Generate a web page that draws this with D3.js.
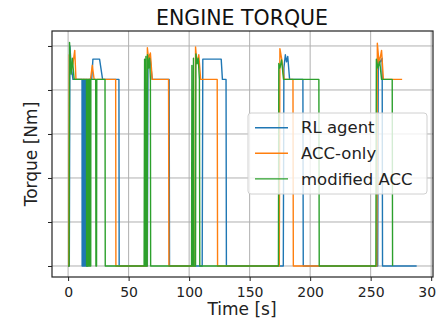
<!DOCTYPE html>
<html>
<head>
<meta charset="utf-8">
<script src="https://cdn.jsdelivr.net/npm/d3@7"></script>
<style>
  body { margin: 0; background: #fff; }
  text { font-family: "DejaVu Sans", sans-serif; }
</style>
</head>
<body>
<div id="chart"></div>
<script>
// data (time in s, torque in arbitrary units)
var rlTime = [0, 1, 1.5, 2.5, 4, 11.5, 11.6, 12.2, 12.3, 12.8, 12.9, 13.5, 13.6, 14.1, 14.2, 14.8, 14.9, 15.5, 15.6, 16.2, 16.3, 19.5, 20.5, 26, 28.5, 42, 42.2,
  65.5, 66, 67.5, 69.5, 83.5, 83.8, 110.8, 111.3, 126.5, 127.5, 130.5, 130.8,
  177.8, 178.3, 179.5, 180.5, 181.5, 183, 194, 194.3, 255.8, 256.3, 258, 259.5, 259.8, 288];
var rlTorque = [0, 0, 250, 228, 212, 212, 0, 0, 212, 212, 0, 0, 212, 212, 0, 0, 212, 212, 0, 0, 212, 212, 235, 235, 212, 212, 0,
  0, 236, 240, 212, 212, 0, 0, 235, 235, 212, 212, 0,
  0, 225, 240, 232, 238, 212, 212, 0, 0, 238, 232, 236, 0, 0];

var accTime = [0, 0.5, 1, 2.5, 4, 5.5, 6.5, 18.5, 20, 21.5, 39.3, 39.5,
  65, 65.5, 66.5, 68, 69.5, 83, 83.3, 104.8, 105.3, 106.5, 108, 109.5, 123.2, 123.5,
  174.5, 175, 176.5, 178.5, 185.8, 186.1, 255, 255.5, 257, 259, 260.5, 276];
var accTorque = [0, 0, 240, 222, 230, 245, 212, 212, 228, 212, 212, 0,
  0, 248, 235, 242, 212, 212, 0, 0, 249, 230, 240, 212, 212, 0,
  0, 247, 235, 212, 212, 0, 0, 253, 230, 245, 212, 212];

var modTime = [0, 0.8, 1.2, 2.5, 3.5, 5, 15.2, 15.3, 15.9, 16, 16.6, 16.7, 17.3, 17.4, 18, 18.1, 18.7, 18.8, 22.8, 23, 23.5, 23.7, 30.5, 30.7,
  62.8, 63.2, 63.5, 64, 64.3, 64.8, 65.3, 65.6, 66.5, 67.3, 68, 68.2,
  102, 102.3, 102.7, 103.3, 103.6, 104, 105.3, 105.6, 106.5, 107.5, 108.5, 108.8,
  173.8, 174.1, 175, 176.4, 178, 207.2, 207.5, 254.3, 254.7, 256, 257.5, 259, 267.8, 268.1];
var modTorque = [0, 0, 254, 218, 236, 212, 212, 0, 0, 212, 212, 0, 0, 212, 212, 0, 0, 212, 212, 0, 0, 212, 212, 0,
  0, 235, 0, 0, 238, 0, 0, 240, 225, 236, 212, 0,
  0, 228, 0, 0, 236, 0, 0, 241, 230, 236, 212, 0,
  0, 230, 225, 234, 212, 212, 0, 0, 235, 225, 232, 212, 212, 0];

var seriesNames = ["RL agent", "ACC-only", "modified ACC"];
var seriesColors = ["#1f77b4", "#ff7f0e", "#2ca02c"];
var xTicks = [0, 50, 100, 150, 200, 250, 300];
var yTicks = [0, 50, 100, 150, 200, 250];

var series = [
  {name: seriesNames[0], color: seriesColors[0], t: rlTime, v: rlTorque},
  {name: seriesNames[1], color: seriesColors[1], t: accTime, v: accTorque},
  {name: seriesNames[2], color: seriesColors[2], t: modTime, v: modTorque}
];

// set the dimensions and margins of the graph
var margin = {top: 31, right: 3, bottom: 46, left: 52},
    width = 436 - margin.left - margin.right,
    height = 323 - margin.top - margin.bottom;

var svg = d3.select("#chart")
  .append("svg")
    .attr("width", 436)
    .attr("height", 323);

var canvas = svg.append("g")
    .attr("transform", "translate(" + margin.left + "," + margin.top + ")");

var x = d3.scaleLinear()
  .domain([-13.3, 301.5])
  .range([0, width]);

var y = d3.scaleLinear()
  .domain([-12.5, 267])
  .range([height, 0]);

// grid
canvas.append("g")
  .selectAll("line")
  .data(xTicks)
  .enter()
  .append("line")
    .attr("x1", d => x(d)).attr("x2", d => x(d))
    .attr("y1", 0).attr("y2", height)
    .attr("stroke", "#b0b0b0")
    .attr("stroke-width", 1);

canvas.append("g")
  .selectAll("line")
  .data(yTicks)
  .enter()
  .append("line")
    .attr("x1", 0).attr("x2", width)
    .attr("y1", d => y(d)).attr("y2", d => y(d))
    .attr("stroke", "#b0b0b0")
    .attr("stroke-width", 1);

// lines
var line = d3.line()
  .x(d => x(d[0]))
  .y(d => y(d[1]));

series.forEach(function(s) {
  var pts = s.t.map((t, i) => [t, s.v[i]]);
  canvas.append("path")
    .datum(pts)
    .attr("fill", "none")
    .attr("stroke", s.color)
    .attr("stroke-width", 1.4)
    .attr("stroke-linejoin", "round")
    .attr("d", line);
});

// axes
var xAxis = canvas.append("g")
  .attr("transform", "translate(0," + height + ")")
  .call(d3.axisBottom(x).tickValues(xTicks).tickSize(4).tickSizeOuter(0));
xAxis.select(".domain").remove();
xAxis.selectAll("text")
  .attr("font-size", 14)
  .attr("fill", "#222")
  .attr("dy", "0.92em");

var yAxis = canvas.append("g")
  .call(d3.axisLeft(y).tickValues(yTicks).tickSize(4).tickFormat(""));
yAxis.select(".domain").remove();

canvas.selectAll(".tick line").attr("stroke", "#222");

// frame
canvas.append("rect")
  .attr("width", width)
  .attr("height", height)
  .attr("fill", "none")
  .attr("stroke", "#222")
  .attr("stroke-width", 1.2);

// title and labels
svg.append("text")
  .attr("x", 242)
  .attr("y", 25)
  .attr("text-anchor", "middle")
  .attr("font-size", 20.5)
  .attr("fill", "#111")
  .text("ENGINE TORQUE");

svg.append("text")
  .attr("x", 242)
  .attr("y", 315)
  .attr("text-anchor", "middle")
  .attr("font-size", 17)
  .attr("fill", "#222")
  .text("Time [s]");

svg.append("text")
  .attr("transform", "translate(37,154) rotate(-90)")
  .attr("text-anchor", "middle")
  .attr("font-size", 17)
  .attr("fill", "#222")
  .text("Torque [Nm]");

// legend
var legend = canvas.append("g")
  .attr("transform", "translate(" + (248 - margin.left) + "," + (113 - margin.top) + ")");

legend.append("rect")
  .attr("width", 179)
  .attr("height", 81)
  .attr("rx", 3)
  .attr("fill", "#fff")
  .attr("fill-opacity", 0.8)
  .attr("stroke", "#d0d0d0");

legend.selectAll("g.item")
  .data(series)
  .enter()
  .append("g")
    .attr("class", "item")
    .attr("transform", (d, i) => "translate(0," + (14.7 + i * 25.6) + ")")
    .each(function(d) {
      var g = d3.select(this);
      g.append("line")
        .attr("x1", 7).attr("x2", 40)
        .attr("stroke", d.color)
        .attr("stroke-width", 1.4);
      g.append("text")
        .attr("x", 53)
        .attr("dy", "0.35em")
        .attr("font-size", 16.5)
        .attr("fill", "#222")
        .text(d.name);
    });
</script>
</body>
</html>
